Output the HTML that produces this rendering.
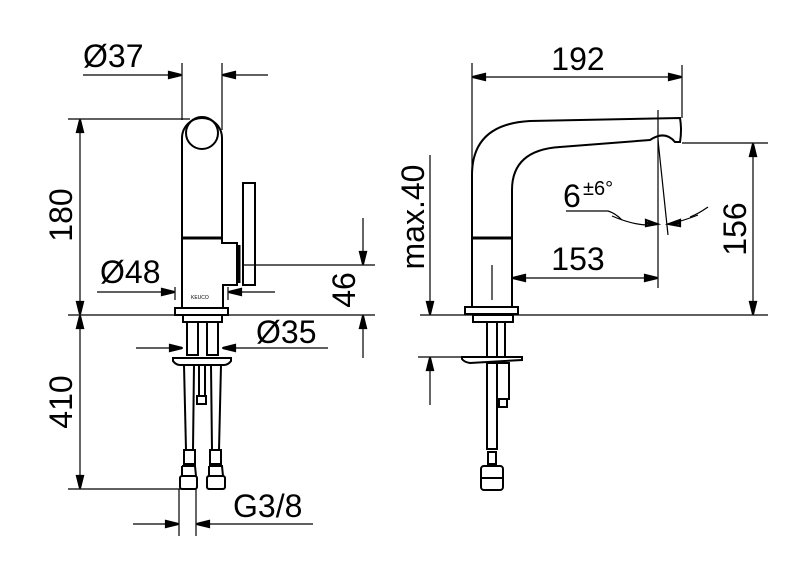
<!DOCTYPE html>
<html><head><meta charset="utf-8"><style>
html,body{margin:0;padding:0;background:#fff;}
svg{display:block}
text{font-family:"Liberation Sans",sans-serif;font-size:32px;fill:#000}
</style></head><body>
<svg width="802" height="576" viewBox="0 0 802 576" xmlns="http://www.w3.org/2000/svg">
<g stroke="#000" stroke-width="1.2" fill="none">
<line x1="83" y1="75" x2="182" y2="75"/>
<line x1="268" y1="75" x2="222" y2="75"/>
<line x1="182" y1="63" x2="182" y2="120"/>
<line x1="222" y1="63" x2="222" y2="130"/>
<line x1="68" y1="119" x2="190" y2="119"/>
<line x1="80" y1="119" x2="80" y2="315"/>
<line x1="68" y1="315" x2="375" y2="315"/>
<line x1="97" y1="292" x2="175" y2="292"/>
<line x1="275" y1="292" x2="228" y2="292"/>
<line x1="175" y1="287" x2="175" y2="300"/>
<line x1="228" y1="287" x2="228" y2="300"/>
<line x1="363" y1="218" x2="363" y2="265"/>
<line x1="363" y1="358" x2="363" y2="315"/>
<line x1="243" y1="265" x2="375" y2="265"/>
<line x1="136" y1="348" x2="183" y2="348"/>
<line x1="328" y1="348" x2="222" y2="348"/>
<line x1="80" y1="315" x2="80" y2="489"/>
<line x1="68" y1="489" x2="183" y2="489"/>
<line x1="133" y1="524" x2="179" y2="524"/>
<line x1="313" y1="524" x2="196" y2="524"/>
<line x1="179" y1="489" x2="179" y2="536"/>
<line x1="196" y1="489" x2="196" y2="536"/>
</g>
<g stroke="#000" stroke-width="2.2" fill="none" stroke-linejoin="miter">
<!-- horizontal right-pointing: tip x,y -->
<path d="M169,72 L181,75 L169,78 Z M169,74 L181,75 M169,76 L181,75"/>
<path d="M235,72 L223,75 L235,78 Z M235,74 L223,75 M235,76 L223,75"/>
<path d="M77,132 L80,120 L83,132 Z M79,132 L80,120 M81,132 L80,120"/>
<path d="M77,302 L80,314 L83,302 Z M79,302 L80,314 M81,302 L80,314"/>
<path d="M162,289 L174,292 L162,295 Z M162,291 L174,292 M162,293 L174,292"/>
<path d="M241,289 L229,292 L241,295 Z M241,291 L229,292 M241,293 L229,292"/>
<path d="M360,252 L363,264 L366,252 Z M362,252 L363,264 M364,252 L363,264"/>
<path d="M360,328 L363,316 L366,328 Z M362,328 L363,316 M364,328 L363,316"/>
<path d="M170,345 L182,348 L170,351 Z M170,347 L182,348 M170,349 L182,348"/>
<path d="M235,345 L223,348 L235,351 Z M235,347 L223,348 M235,349 L223,348"/>
<path d="M77,328 L80,316 L83,328 Z M79,328 L80,316 M81,328 L80,316"/>
<path d="M77,476 L80,488 L83,476 Z M79,476 L80,488 M81,476 L80,488"/>
<path d="M166,521 L178,524 L166,527 Z M166,523 L178,524 M166,525 L178,524"/>
<path d="M209,521 L197,524 L209,527 Z M209,523 L197,524 M209,525 L197,524"/>
<path d="M485,74 L473,77 L485,80 Z M485,76 L473,77 M485,78 L473,77"/>
<path d="M669,74 L681,77 L669,80 Z M669,76 L681,77 M669,78 L681,77"/>
<path d="M525,275 L513,278 L525,281 Z M525,277 L513,278 M525,279 L513,278"/>
<path d="M645,275 L657,278 L645,281 Z M645,277 L657,278 M645,279 L657,278"/>
<path d="M750,156 L753,144 L756,156 Z M752,156 L753,144 M754,156 L753,144"/>
<path d="M750,302 L753,314 L756,302 Z M752,302 L753,314 M754,302 L753,314"/>
<path d="M427,302 L430,314 L433,302 Z M429,302 L430,314 M431,302 L430,314"/>
<path d="M427,370 L430,358 L433,370 Z M429,370 L430,358 M431,370 L430,358"/>
<path d="M646,220 L657,224 L646,226 Z M646,223 L657,224"/>
<path d="M680,220 L669,224 L680,226 Z M680,223 L669,224"/>
</g>
<g stroke="#000" stroke-width="2" fill="none">
<path d="M182,307 L182,138 A20,20 0 0 1 222,138 L222,243 L237,243 L237,285 L223,285 L223,307"/>
<circle cx="202" cy="133" r="16"/>
<line x1="182" y1="238" x2="222" y2="238" stroke-width="3"/>
<rect x="243" y="183" width="12" height="102"/>
<line x1="239" y1="245" x2="239" y2="283" stroke-width="3"/>
<rect x="175" y="308" width="53" height="7"/>
<rect x="183" y="315" width="39" height="7"/>
<rect x="187" y="322" width="11" height="33"/>
<rect x="207" y="322" width="11" height="33"/>
<path d="M173,358 L231,358 L231,361 Q228,365 224,365 L180,365 Q176,365 173,361 Z"/>
<path d="M184,365 L186,450 M194,365 L193,450 M211,365 L212,450 M221,365 L219,450"/>
<line x1="199" y1="365" x2="199" y2="395"/><line x1="205" y1="365" x2="205" y2="395"/>
<rect x="197" y="396" width="9" height="8"/>
<rect x="184" y="450" width="11" height="14"/>
<rect x="210" y="450" width="11" height="14"/>
<rect x="180" y="476" width="17" height="13" rx="2"/>
<rect x="207" y="476" width="18" height="13" rx="2"/>
<path d="M182,466 L195,466 L196,476 M182,476 L182,466 M209,466 L222,466 L223,476 M209,476 L209,466"/>
</g>
<text x="191" y="299" style="font-size:5px">KEUCO</text>
<g stroke="#000" stroke-width="1.2" fill="none">
<line x1="472" y1="77" x2="682" y2="77"/>
<line x1="472" y1="63" x2="472" y2="307"/>
<line x1="682" y1="65" x2="682" y2="118"/>
<line x1="658" y1="110" x2="658" y2="288"/>
<line x1="658" y1="140" x2="668" y2="235"/>
<line x1="492" y1="265" x2="492" y2="300"/>
<line x1="512" y1="278" x2="658" y2="278"/>
<path d="M566,211 L608,211 Q615,213 622,220"/>
<path d="M612,216 Q640,228 658,224"/>
<path d="M708,207 Q698,214 690,217"/>
<path d="M698,215 Q680,222 668,224"/>
<line x1="682" y1="143" x2="768" y2="143"/>
<line x1="420" y1="315" x2="768" y2="315"/>
<line x1="753" y1="143" x2="753" y2="315"/>
<line x1="430" y1="155" x2="430" y2="315"/>
<line x1="430" y1="405" x2="430" y2="357"/>
<line x1="418" y1="357" x2="520" y2="357"/>
</g>
<g stroke="#000" stroke-width="2" fill="none">
<path d="M472,307 L472,175 Q472,124 530,121 L680,118 Q682,130 680,142 L675,142 Q665,130 650,140 L560,147 Q512,150 512,190 L512,307"/>
<line x1="472" y1="238" x2="512" y2="238" stroke-width="3"/>
<rect x="465" y="307" width="53" height="7"/>
<rect x="473" y="315" width="40" height="7"/>
<rect x="487" y="322" width="10" height="35"/>
<rect x="497" y="322" width="8" height="35"/>
<path d="M462,357 L522,357 L522,360 L470,363 Q464,362 462,359 Z"/>
<rect x="487" y="363" width="10" height="86"/>
<rect x="497" y="363" width="12" height="36"/>
<rect x="499" y="399" width="8" height="8"/>
<rect x="488" y="452" width="8" height="12"/>
<rect x="481" y="466" width="22" height="24" rx="3"/>
<line x1="481" y1="478" x2="503" y2="478"/>
</g>
<text x="83" y="67">Ø37</text>
<text x="100" y="283">Ø48</text>
<text x="256" y="343">Ø35</text>
<text x="233" y="517">G3/8</text>
<text transform="translate(72,215) rotate(-90)" text-anchor="middle">180</text>
<text transform="translate(72,402) rotate(-90)" text-anchor="middle">410</text>
<text transform="translate(355,290) rotate(-90)" text-anchor="middle">46</text>
<text x="578" y="70" text-anchor="middle">192</text>
<text x="578" y="270" text-anchor="middle">153</text>
<text transform="translate(746,229) rotate(-90)" text-anchor="middle">156</text>
<text transform="translate(424,217) rotate(-90)" text-anchor="middle">max.40</text>
<text x="563" y="207">6</text>
<text x="583" y="195" style="font-size:20px">±6°</text>
</svg>
</body></html>
